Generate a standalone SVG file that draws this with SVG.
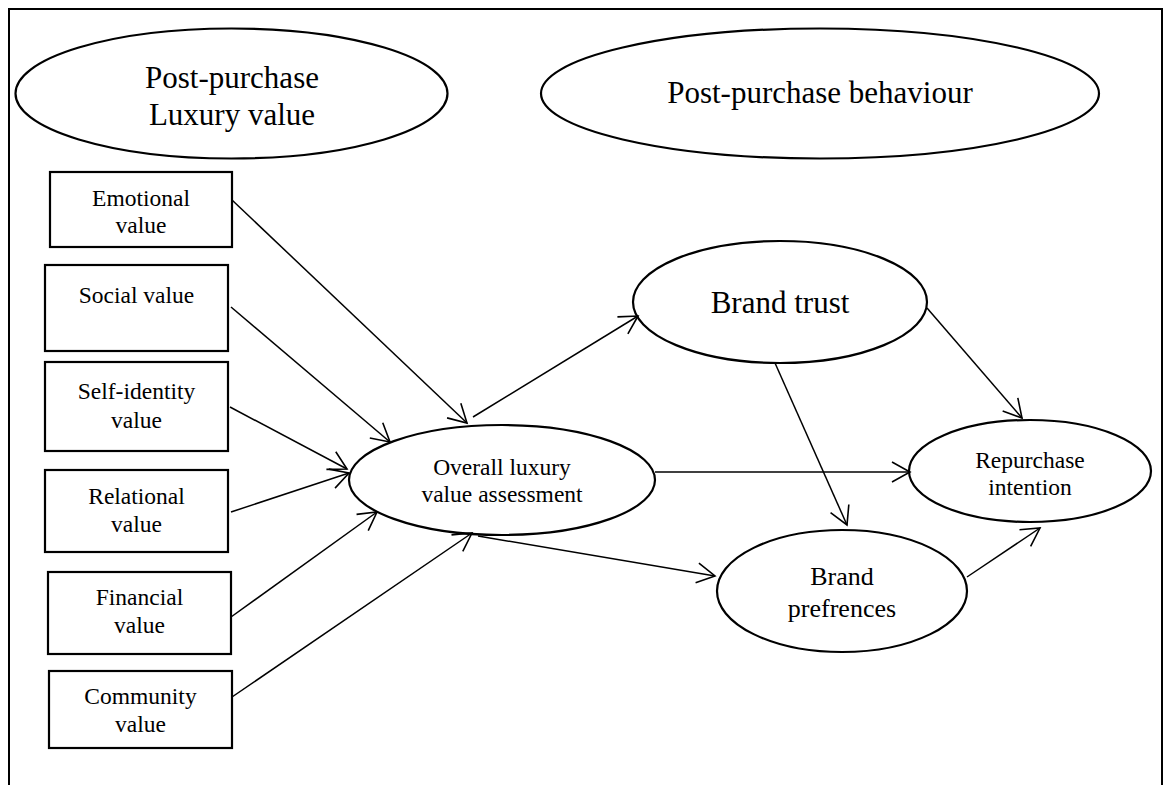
<svg xmlns="http://www.w3.org/2000/svg" width="1168" height="785" viewBox="0 0 1168 785">
<style>
.shape{fill:#fff;stroke:#000;stroke-width:2.2}
.t{font-family:"Liberation Serif","Times New Roman",serif;fill:#000;text-anchor:middle}
.big{font-size:31px}
.mid{font-size:23.5px}
.bp{font-size:26px}
.c{stroke:#000;stroke-width:1.5;fill:none;marker-end:url(#ah)}
</style>
<defs>
<marker id="ah" markerUnits="userSpaceOnUse" orient="auto" markerWidth="24" markerHeight="24" refX="0" refY="0" viewBox="-20 -12 22 24" overflow="visible">
<path d="M-18,-10 L0,0 L-18,10" fill="none" stroke="#000" stroke-width="1.6"/>
</marker>
</defs>
<rect width="1168" height="785" fill="#fff"/>
<path d="M9,785 V9 H1162 V785" fill="none" stroke="#000" stroke-width="2"/>

<g id="luxury-value-title">
<ellipse class="shape" cx="231.5" cy="93.5" rx="216" ry="65"/>
<text class="t big" x="232" y="88">Post-purchase</text>
<text class="t big" x="232" y="125">Luxury value</text>
</g>
<g id="behaviour-title">
<ellipse class="shape" cx="820" cy="93.5" rx="279" ry="65"/>
<text class="t big" x="820" y="103" font-size="30.5">Post-purchase behaviour</text>
</g>

<g id="emotional">
<rect class="shape" x="50" y="172" width="182" height="75"/>
<text class="t mid" x="141" y="206">Emotional</text>
<text class="t mid" x="141" y="233">value</text>
</g>
<g id="social">
<rect class="shape" x="45" y="265" width="183" height="86"/>
<text class="t mid" x="136.5" y="303">Social value</text>
</g>
<g id="self-identity">
<rect class="shape" x="45" y="362" width="183" height="89"/>
<text class="t mid" x="136.5" y="399">Self-identity</text>
<text class="t mid" x="136.5" y="428">value</text>
</g>
<g id="relational">
<rect class="shape" x="45" y="470" width="183" height="82"/>
<text class="t mid" x="136.5" y="504">Relational</text>
<text class="t mid" x="136.5" y="532">value</text>
</g>
<g id="financial">
<rect class="shape" x="48" y="572" width="183" height="82"/>
<text class="t mid" x="139.5" y="605">Financial</text>
<text class="t mid" x="139.5" y="633">value</text>
</g>
<g id="community">
<rect class="shape" x="49" y="671" width="183" height="77"/>
<text class="t mid" x="140.5" y="704">Community</text>
<text class="t mid" x="140.5" y="732">value</text>
</g>

<g id="overall">
<ellipse class="shape" cx="502" cy="480" rx="153" ry="55"/>
<text class="t mid" x="502" y="475">Overall luxury</text>
<text class="t mid" x="502" y="502">value assessment</text>
</g>
<g id="brand-trust">
<ellipse class="shape" cx="780" cy="302" rx="147" ry="61"/>
<text class="t big" x="780" y="313">Brand trust</text>
</g>
<g id="repurchase">
<ellipse class="shape" cx="1030" cy="471" rx="121" ry="51"/>
<text class="t mid" x="1030" y="468">Repurchase</text>
<text class="t mid" x="1030" y="495">intention</text>
</g>
<g id="brand-preferences">
<ellipse class="shape" cx="842" cy="591" rx="125" ry="61"/>
<text class="t bp" x="842" y="585">Brand</text>
<text class="t bp" x="842" y="617">prefrences</text>
</g>

<g id="connectors">
<line class="c" x1="232" y1="200" x2="467" y2="423"/>
<line class="c" x1="231" y1="307" x2="390" y2="442"/>
<line class="c" x1="230" y1="407" x2="347" y2="469"/>
<line class="c" x1="231" y1="512" x2="349" y2="473"/>
<line class="c" x1="231" y1="617" x2="377" y2="512"/>
<line class="c" x1="232" y1="697" x2="472" y2="533"/>
<line class="c" x1="473" y1="417" x2="638" y2="316"/>
<line class="c" x1="655" y1="472" x2="910" y2="472"/>
<line class="c" x1="775" y1="363" x2="847" y2="525"/>
<line class="c" x1="478" y1="536" x2="715" y2="576"/>
<line class="c" x1="927" y1="308" x2="1022" y2="418"/>
<line class="c" x1="967" y1="577" x2="1040" y2="528"/>
</g>
</svg>
